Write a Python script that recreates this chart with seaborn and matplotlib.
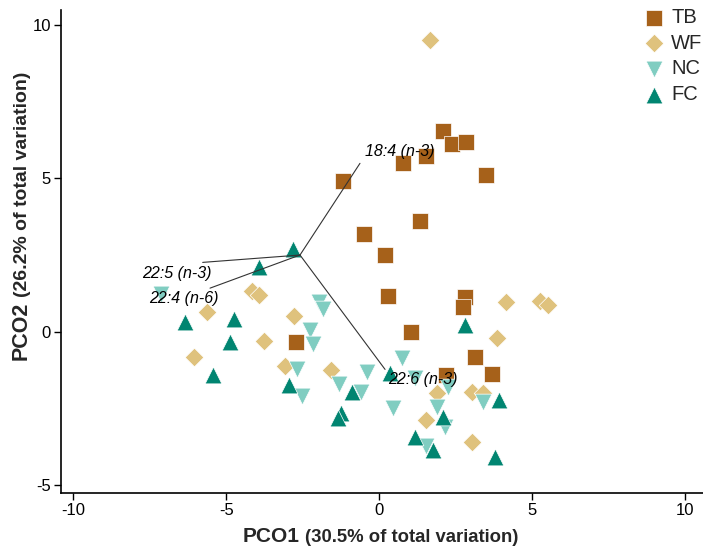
import matplotlib
matplotlib.use("Agg")
import matplotlib.pyplot as plt
import seaborn as sns
import pandas as pd

# ---------------- data ----------------
tb_x = [2.09, 2.37, 2.85, 0.79, 1.52, -1.18, 3.50, 1.34, -0.49, 0.19, 0.28, 1.03, -2.72, 2.80, 2.75, 3.14, 3.69, 2.17]
tb_y = [6.54, 6.13, 6.20, 5.51, 5.73, 4.91, 5.11, 3.62, 3.19, 2.51, 1.15, -0.02, -0.35, 1.12, 0.79, -0.81, -1.38, -1.41]

wf_x = [1.65, -4.15, -3.92, -5.62, -2.80, -3.77, -6.05, -3.08, -1.58, 4.14, 5.24, 5.50, 3.84, 1.90, 3.02, 3.40, 1.52, 3.02]
wf_y = [9.51, 1.34, 1.21, 0.65, 0.50, -0.29, -0.82, -1.11, -1.24, 0.98, 0.99, 0.88, -0.19, -1.99, -1.96, -2.01, -2.88, -3.59]

nc_x = [-7.12, -1.96, -1.85, -2.26, -2.15, -2.70, -2.54, -1.31, -0.60, -0.41, 0.46, 0.73, 1.17, 2.25, 1.90, 2.15, 1.52, 3.38]
nc_y = [1.23, 0.96, 0.74, 0.05, -0.40, -1.22, -2.09, -1.71, -1.98, -1.30, -2.50, -0.87, -1.52, -1.79, -2.45, -3.12, -3.73, -2.28]

fc_x = [-2.83, -3.94, -6.36, -4.75, -4.87, -5.44, -2.94, -0.90, -1.25, -1.36, 0.35, 2.80, 3.92, 2.09, 1.17, 1.77, 3.78]
fc_y = [2.70, 2.12, 0.30, 0.41, -0.32, -1.41, -1.73, -1.96, -2.64, -2.80, -1.36, 0.22, -2.23, -2.79, -3.44, -3.86, -4.08]

groups = ["TB", "WF", "NC", "FC"]
colors = ["#a6611a", "#dfc27d", "#80cdc1", "#018571"]
markers = ["s", "D", "v", "^"]
msizes = [125, 90, 145, 145]

vec_labels = ["18:4 (n-3)", "22:5 (n-3)", "22:4 (n-6)", "22:6 (n-3)"]
vec_origin = (-2.59, 2.50)
vec_end_x = [-0.63, -5.77, -5.53, 0.19]
vec_end_y = [5.49, 2.26, 1.42, -1.23]
lab_x = [-0.47, -5.47, -5.24, 0.28]
lab_y = [5.86, 1.91, 1.07, -1.57]
lab_ha = ["left", "right", "right", "left"]

x_ticks = [-10, -5, 0, 5, 10]
y_ticks = [-5, 0, 5, 10]

# ---------------- plot ----------------
sns.set_theme(style="ticks")
plt.rcParams["font.family"] = ["Liberation Sans", "DejaVu Sans"]
plt.rcParams["axes.unicode_minus"] = False

W, H = 703, 550
fig = plt.figure(figsize=(W / 100, H / 100), dpi=100)
ax = fig.add_axes([60.7 / W, (H - 493.3) / H, 1 - 60.7 / W, (493.3 - 10) / H])

data = {"TB": (tb_x, tb_y), "WF": (wf_x, wf_y), "NC": (nc_x, nc_y), "FC": (fc_x, fc_y)}
for g, c, m, s in zip(groups, colors, markers, msizes):
    gx, gy = data[g]
    df = pd.DataFrame({"x": gx, "y": gy})
    sns.scatterplot(data=df, x="x", y="y", ax=ax, color=c, marker=m, s=s,
                    edgecolor="white", linewidth=0.5, label=g, zorder=2)

for ex, ey, lab, lx, ly, ha in zip(vec_end_x, vec_end_y, vec_labels, lab_x, lab_y, lab_ha):
    ax.plot([vec_origin[0], ex], [vec_origin[1], ey], color="#333333", lw=0.8, zorder=3)
    ax.text(lx, ly, lab, ha=ha, va="center", fontsize=11.5, style="italic",
            color="black", zorder=4)

ax.set_xlim(-10.41, 10.58)
ax.set_ylim(-5.27, 10.49)
ax.set_xticks(x_ticks)
ax.set_yticks(y_ticks)
ax.tick_params(axis="both", labelsize=12, length=5, width=1, color="black",
               labelcolor="black", direction="out", pad=2)
for sp in ["top", "right"]:
    ax.spines[sp].set_visible(False)
for sp in ["left", "bottom"]:
    ax.spines[sp].set_color("black")
    ax.spines[sp].set_linewidth(1.2)
ax.set_xlabel("")
ax.set_ylabel("")

leg = ax.legend(loc="upper left", bbox_to_anchor=(646 / W, 1 - 8 / H),
                bbox_transform=fig.transFigure, frameon=False, fontsize=14.5,
                handlelength=0.8, handletextpad=0.45, labelspacing=0.33,
                borderpad=0, borderaxespad=0)

# axis labels: bold, "PCOx" slightly larger than the rest
fig.canvas.draw()
r = fig.canvas.get_renderer()
t1 = fig.text(242.7 / W, (H - 542.3) / H, "PCO1", fontsize=15, fontweight="bold",
              ha="left", va="baseline")
bb = t1.get_window_extent(r)
fig.text((bb.x1 + 5) / W, (H - 542.3) / H, "(30.5% of total variation)", fontsize=13.3,
         fontweight="bold", ha="left", va="baseline")

t2 = fig.text(27 / W, (H - 360) / H, "PCO2", fontsize=15.5, fontweight="bold",
              rotation=90, rotation_mode="anchor", ha="left", va="baseline")
bb2 = t2.get_window_extent(r)
fig.text(27 / W, (bb2.y1 + 5) / H, "(26.2% of total variation)", fontsize=14,
         fontweight="bold", rotation=90, rotation_mode="anchor", ha="left", va="baseline")

fig.savefig("out.png", dpi=100)
